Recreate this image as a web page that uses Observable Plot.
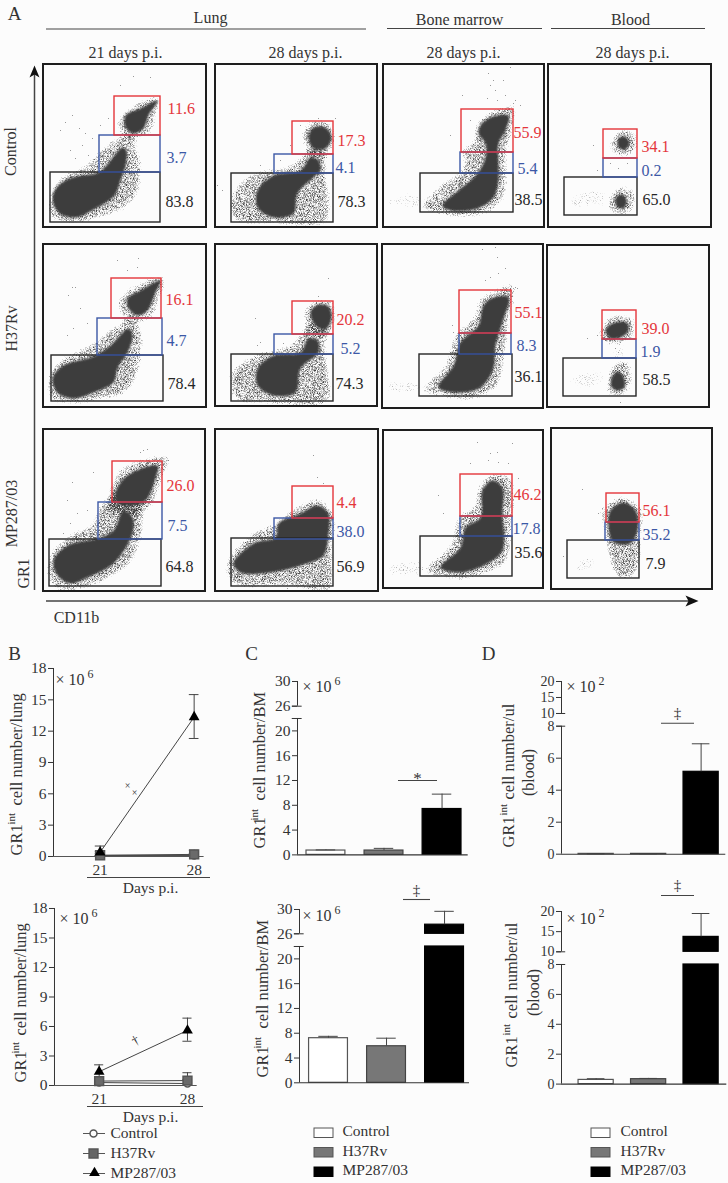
<!DOCTYPE html>
<html><head><meta charset="utf-8">
<script src="https://cdn.jsdelivr.net/npm/d3@7"></script>
<script src="https://cdn.jsdelivr.net/npm/@observablehq/plot@0.6"></script>
<style>
html,body{margin:0;padding:0;background:#fcfcfc}
#fig{position:relative;width:728px;height:1183px;overflow:hidden;background:#fcfcfc;font-family:"Liberation Serif",serif}
</style></head><body>
<svg width="0" height="0" style="position:absolute"><defs>
<filter id="grain" x="0" y="0" width="100%" height="100%" color-interpolation-filters="sRGB">
<feGaussianBlur in="SourceAlpha" stdDeviation="3.4" result="b"/>
<feTurbulence type="fractalNoise" baseFrequency="1.3" numOctaves="2" seed="11" result="n"/>
<feComposite in="n" in2="b" operator="arithmetic" k1="2.1" k2="0" k3="0" k4="-0.5" result="s"/>
<feComponentTransfer in="s" result="t"><feFuncA type="linear" slope="2" intercept="0"/></feComponentTransfer>
<feFlood flood-color="#424242" result="f"/>
<feComposite in="f" in2="t" operator="in"/>
</filter>
<filter id="soft" x="0" y="0" width="100%" height="100%"><feGaussianBlur stdDeviation="1"/></filter>
</defs></svg>
<div id="fig"></div>
<script>
const FONT = '"Liberation Serif", serif';
const INK = "#333";
const RED = "#e4363b", BLUE = "#3c58a6", BLACK = "#262626";

// ---------- Panel B: time course ----------
const days = [21, 28];
const strains = ["Control", "H37Rv", "MP287/03"];
const lungTop = {
  Control: [0.1, 0.1], ControlHi: [0.3, 0.3],
  H37Rv: [0.12, 0.2], H37RvHi: [0.5, 0.6],
  MP: [0.4, 13.35], MPHi: [1.0, 15.5], MPLo: [0.1, 11.3]
};
const lungBottom = {
  Control: [0.3, 0.2], ControlHi: [0.7, 0.6],
  H37Rv: [0.45, 0.5], H37RvHi: [0.9, 1.3],
  MP: [1.4, 5.6], MPHi: [2.1, 6.85], MPLo: [0.9, 4.5]
};

// ---------- Panels C and D: bars ----------
const bmTopValues = [0.7, 0.7, 7.4];
const bmTopErrors = [0.8, 1.05, 9.8];
const bmBottomValues = [7.2, 5.9, 27.5];
const bmBottomErrors = [7.5, 7.2, 29.7];
const bloodTopValues = [0.02, 0.02, 5.15];
const bloodTopErrors = [0.03, 0.03, 6.9];
const bloodBottomValues = [0.28, 0.33, 13.7];
const bloodBottomErrors = [0.36, 0.38, 19.5];
const bmTicks = [0, 4, 8, 12, 16, 20, 26, 30];
const bloodTicks = [0, 2, 4, 6, 8, 10, 15, 20];
const lungTicks = [0, 3, 6, 9, 12, 15, 18];

// ---------- Panel A: flow cytometry plots (read in plate coordinates) ----------
const plotBoxes = [
 [43,206,64,227],[215,377,64,227],[383,544,64,227],[548,711,64,227],
 [43,206,244,407],[215,377,244,406],[382,543,244,408],[547,709,245,407],
 [43,205,429,591],[215,378,429,591],[383,543,430,588],[551,712,428,589]];
const redGates = [
 [114,160,96,135],[292,333,121,154],[461,513,109,152],[603,637,129,158],
 [111,161,278,318],[292,333,301,334],[459,511,290,333],[602,636,310,339],
 [112,162,461,502],[292,333,486,518],[460,512,474,516],[606,639,493,522]];
const blueGates = [
 [99,160,135,172],[274,333,154,173],[460,513,152,173],[603,637,158,177],
 [97,162,318,355],[274,333,334,354],[459,511,333,354],[602,636,339,358],
 [98,162,502,539],[274,333,518,539],[460,512,516,536],[605,639,522,540]];
const blackGates = [
 [50,160,172,222],[231,333,173,222],[420,513,173,212],[564,637,177,215],
 [51,163,355,401],[231,333,354,401],[419,512,354,396],[563,636,358,396],
 [49,161,539,586],[231,333,538,586],[420,512,536,576],[567,639,540,578]];
const redValues = ["11.6","17.3","55.9","34.1","16.1","20.2","55.1","39.0","26.0","4.4","46.2","56.1"];
const blueValues = ["3.7","4.1","5.4","0.2","4.7","5.2","8.3","1.9","7.5","38.0","17.8","35.2"];
const blackValues = ["83.8","78.3","38.5","65.0","78.4","74.3","36.1","58.5","64.8","56.9","35.6","7.9"];
const redLabelAt = [[167,108],[337,140],[513,132],[641,146],[165,299],[336,319],[514,312],[641,328],[166,485],[336,502],[513,494],[642,510]];
const blueLabelAt = [[166,157],[335,167],[517,168],[641,170],[166,340],[340,348],[516,345],[640,351],[167,525],[336,531],[512,528],[642,534]];
const blackLabelAt = [[165,201],[337,201],[514,199],[642,199],[167,383],[335,383],[514,376],[642,379],[165,566],[336,566],[514,552],[645,563]];

const denseRegions = [
 [[52,197],[58,185],[72,177],[98,172],[106,165],[114,155],[122,147],[126,150],[125,165],[120,180],[114,195],[95,208],[75,217],[58,212]],
 [[125,115],[140,108],[157,100],[148,115],[143,128],[133,133],[125,127]],
 [[308,137],[313,127],[325,127],[331,137],[325,148],[313,148]],
 [[257,190],[273,175],[300,170],[310,157],[318,160],[320,170],[313,177],[297,193],[293,213],[273,217],[257,207]],
 [[480,125],[490,117],[508,115],[505,130],[498,143],[498,163],[498,180],[493,197],[477,208],[450,210],[442,205],[458,190],[477,173],[485,157],[485,143],[478,133]],
 [[52,378],[63,365],[93,356],[110,345],[128,328],[132,335],[128,350],[117,368],[113,382],[93,392],[73,398],[57,392]],
 [[127,298],[140,290],[160,280],[155,292],[147,310],[138,315],[128,308]],
 [[310,312],[318,304],[328,306],[331,318],[325,329],[316,326]],
 [[257,368],[273,355],[300,352],[308,338],[317,340],[318,352],[300,368],[295,392],[273,395],[257,385]],
 [[483,305],[493,297],[508,297],[502,322],[495,345],[493,368],[480,387],[457,392],[438,387],[453,365],[460,342],[478,325]],
 [[605,330],[612,323],[626,322],[628,330],[620,337],[610,338]],
 [[611,378],[617,371],[623,376],[624,387],[616,390],[611,386]],
 [[53,560],[67,545],[97,538],[113,530],[123,510],[132,517],[132,533],[113,563],[87,577],[70,583],[57,575]],
 [[115,492],[127,475],[157,465],[155,478],[143,502],[117,503]],
 [[233,563],[253,543],[275,537],[278,523],[300,513],[317,505],[328,513],[328,533],[323,555],[300,565],[270,572],[240,572]],
 [[482,490],[492,480],[502,487],[502,513],[502,550],[487,563],[460,572],[440,567],[460,547],[465,527],[480,517]],
 [[610,510],[623,502],[635,510],[637,530],[630,543],[613,542],[608,527]],
 [[618,138],[624,136],[629,142],[625,149],[618,147]],
 [[615,198],[621,194],[626,199],[624,207],[617,207]]
];
const haloRegions = [
 [[48,195],[60,176],[85,163],[100,148],[118,136],[134,140],[141,160],[141,185],[127,207],[100,218],[75,224],[50,217]],
 [[117,118],[138,101],[160,96],[157,115],[150,134],[132,139],[118,132]],
 [[300,137],[310,120],[328,120],[336,137],[328,155],[311,154]],
 [[230,195],[250,173],[290,163],[310,148],[324,153],[327,175],[327,222],[270,224],[233,220]],
 [[474,125],[490,110],[515,105],[512,135],[507,160],[507,190],[497,207],[475,217],[440,215],[420,207],[438,185],[463,165],[460,150],[472,140]],
 [[48,372],[65,355],[90,343],[110,328],[128,318],[142,330],[139,370],[127,392],[100,400],[75,404],[50,400]],
 [[118,298],[140,281],[165,275],[160,298],[152,318],[135,322],[119,314]],
 [[302,312],[316,299],[333,301],[336,320],[328,335],[310,330]],
 [[230,372],[255,353],[290,343],[308,323],[324,328],[327,355],[328,402],[270,404],[233,399]],
 [[478,298],[495,288],[515,283],[510,320],[505,360],[497,387],[470,400],[440,397],[420,390],[443,365],[453,335],[473,315]],
 [[598,331],[610,315],[632,316],[636,333],[620,345],[601,342]],
 [[605,385],[612,363],[627,360],[632,385],[624,395],[608,395]],
 [[48,555],[70,533],[90,523],[100,503],[125,493],[142,510],[142,540],[127,567],[90,587],[65,592],[48,582]],
 [[108,490],[122,466],[170,456],[162,480],[149,510],[110,510]],
 [[226,560],[250,533],[272,523],[300,503],[320,498],[335,515],[333,550],[330,590],[290,587],[230,584]],
 [[476,488],[492,472],[512,478],[512,530],[507,562],[485,574],[455,580],[423,570],[448,545],[458,515],[473,505]],
 [[600,510],[622,495],[642,508],[642,535],[637,572],[620,580],[608,562],[603,530]],
 [[609,140],[622,128],[636,133],[637,150],[622,157],[610,152]],
 [[607,198],[620,185],[634,190],[634,208],[620,216],[608,210]]
];
const sparseRegions = [
 [[384,200],[400,192],[425,195],[425,208],[400,208],[384,206]],
 [[384,380],[410,378],[425,382],[425,390],[384,392]],
 [[385,565],[410,558],[425,560],[425,575],[385,575]],
 [[568,198],[585,188],[605,190],[606,206],[585,210],[568,208]],
 [[566,378],[585,368],[605,372],[605,385],[585,390],[568,385]],
 [[570,565],[590,553],[598,560],[590,572],[572,572]],
 [[612,342],[625,342],[624,360],[613,360]]
];
const strayEvents = [
 [72,115],[65,122],[79,128],[85,133],[92,138],[82,145],[70,150],[75,158],[88,155],[133,76],[150,77],[120,85],[108,118],[60,130],[100,125],
 [318,118],[335,118],[300,125],[222,190],[217,185],[280,160],[260,165],[290,145],
 [488,73],[493,80],[503,80],[510,67],[462,95],[497,100],[487,98],[513,103],[450,135],[470,120],[495,90],[505,95],[490,85],[515,100],[520,105],
 [593,145],[618,168],[627,163],[597,170],[610,163],
 [72,287],[75,287],[68,295],[138,258],[117,260],[137,267],[127,270],[80,308],[87,323],[73,328],[67,335],
 [328,278],[318,296],[255,318],[260,342],[257,345],[283,343],
 [482,249],[495,247],[497,257],[490,277],[505,268],[515,287],[517,288],[485,280],[498,273],[452,325],[453,332],
 [587,338],[597,335],[618,352],[615,348],[620,402],
 [143,450],[140,452],[147,449],[168,460],[72,482],[93,472],[67,500],[77,513],[87,510],[70,523],[63,533],
 [313,455],[317,477],[323,483],[267,527],[287,588],[308,588],
 [477,442],[490,453],[497,452],[512,443],[488,460],[498,462],[508,463],[470,463],[443,513],[438,495],[518,478],
 [582,489],[602,508],[598,513],[563,556]
];

// ---------- Figure layout ----------
const labels = [];
function T(t, x, y, size = 16, o = {}) { labels.push({t, x, y, size, fill: o.fill || INK, anchor: o.anchor || "middle", rotate: o.rotate || 0}); }
T("A", 14, 13, 19); T("B", 14, 653, 19); T("C", 251, 653, 19); T("D", 488, 653, 19);
T("Lung", 210, 17, 16); T("Bone marrow", 459, 19, 16); T("Blood", 630, 19, 16);
T("21 days p.i.", 125, 52, 16); T("28 days p.i.", 305, 52, 16); T("28 days p.i.", 463, 52, 16); T("28 days p.i.", 632, 52, 16);
T("Control", 10, 151, 16, {rotate: -90}); T("H37Rv", 11, 328, 16, {rotate: -90}); T("MP287/03", 11, 513, 16, {rotate: -90}); T("GR1", 23, 573, 16, {rotate: -90});
T("CD11b", 76, 617, 16);
function yTitle(x, gr, intY, cell, rest) {
  T("GR1", x, gr, 16.5, {anchor: "start", rotate: -90});
  T("int", x - 5, intY, 11, {anchor: "start", rotate: -90});
  T("cell number/" + rest, x, cell, 16.5, {anchor: "start", rotate: -90});
}
yTitle(16, 855, 824, 805, "lung"); yTitle(20, 1082, 1053, 1035, "lung");
yTitle(259, 848, 820, 800, "BM"); yTitle(262, 1077, 1048, 1028, "BM");
yTitle(508, 847, 815, 799, "ul"); yTitle(511, 1067, 1035, 1018, "ul");
T("(blood)", 528, 772, 16, {rotate: -90}); T("(blood)", 533, 992, 16, {rotate: -90});
function times(x, y, e) { T("× 10", x, y, 16, {anchor: "start"}); T(e, x + 32, y - 5, 12, {anchor: "start"}); }
times(55, 679, "6"); times(59, 918, "6"); times(302, 686, "6"); times(302, 915, "6"); times(566, 686, "2"); times(566, 918, "2");
T("Days p.i.", 150, 888, 15.5); T("Days p.i.", 150, 1117, 15.5);
T("×", 127, 785, 10); T("×", 134, 792, 10); T("†", 135, 1040, 13, {rotate: -30});
T("*", 417, 778, 17); T("‡", 416, 890, 15); T("‡", 677, 713, 15); T("‡", 677, 885, 15);
strains.forEach((s, i) => {
  T(s, 110, 1133 + i * 20, 15.5, {anchor: "start"});
  T(s, 342, 1131 + i * 19.5, 15.5, {anchor: "start"});
  T(s, 620, 1131 + i * 19.5, 15.5, {anchor: "start"});
});
redValues.forEach((v, i) => T(v, redLabelAt[i][0], redLabelAt[i][1], 16, {fill: RED, anchor: "start"}));
blueValues.forEach((v, i) => T(v, blueLabelAt[i][0], blueLabelAt[i][1], 16, {fill: BLUE, anchor: "start"}));
blackValues.forEach((v, i) => T(v, blackLabelAt[i][0], blackLabelAt[i][1], 16, {fill: BLACK, anchor: "start"}));

const headerLines = [[46,366,28.5],[387,542,28],[551,705,28],[87,210,877],[87,203,1106],[398,437,780],[403,430,899],[661,694,722.7],[661,694,895]];
const legendSwatchRows = [1128, 1147.5, 1167];
const legendFills = ["#ffffff", "#777777", "#000000"];
const legendStrokes = ["#555555", "#555555", "#000000"];
const legendBoxesX = [[314, 333], [591, 610]];

const rows = regs => regs.flatMap((r, id) => r.map(([x, y]) => ({x, y, id})));
const rectOf = ([x1, x2, y1, y2]) => ({x1, x2, y1, y2});
const gateMark = (g, stroke) => Plot.rect(g.map(rectOf), {x1: "x1", x2: "x2", y1: "y1", y2: "y2", fill: "none", stroke, strokeWidth: 1.4});
const blobOpts = {x: "x", y: "y", z: "id", curve: "catmull-rom-closed", stroke: "none"};

const plate = Plot.plot({
  width: 728, height: 1183, margin: 0, style: {background: "transparent", fontFamily: FONT},
  x: {domain: [0, 728], range: [0, 728], axis: null},
  y: {domain: [0, 1183], range: [0, 1183], axis: null},
  marks: [
    Plot.line(rows(sparseRegions), {...blobOpts, fill: "#000", fillOpacity: 0.42, imageFilter: "url(#grain)"}),
    Plot.line(rows(haloRegions), {...blobOpts, fill: "#000", fillOpacity: 0.62, imageFilter: "url(#grain)"}),
    Plot.line(rows(denseRegions), {...blobOpts, fill: "#3c3c3c", imageFilter: "url(#soft)"}),
    Plot.dot(strayEvents, {x: d => d[0], y: d => d[1], r: 0.5, fill: "#777"}),
    Plot.rect(plotBoxes.map(rectOf), {x1: "x1", x2: "x2", y1: "y1", y2: "y2", fill: "none", stroke: "#1e1e1e", strokeWidth: 2}),
    gateMark(blackGates, BLACK), gateMark(blueGates, BLUE), gateMark(redGates, RED),
    Plot.ruleX([34], {y1: 72, y2: 590, stroke: "#444", strokeWidth: 1.5}),
    Plot.ruleY([600.5], {x1: 46, x2: 690, stroke: "#444", strokeWidth: 1.5}),
    Plot.line([[34,65],[39,77],[34,74],[29,77]], {x: d => d[0], y: d => d[1], curve: "linear-closed", fill: "#111", stroke: "none"}),
    Plot.line([[698,600.5],[685,595],[688,600.5],[685,606]], {x: d => d[0], y: d => d[1], curve: "linear-closed", fill: "#111", stroke: "none"}),
    Plot.ruleY(headerLines, {x1: d => d[0], x2: d => d[1], y: d => d[2], stroke: "#444", strokeWidth: 1.1}),
    ...legendBoxesX.flatMap(([a, b]) => legendSwatchRows.map((y, i) =>
      Plot.rect([{x1: a, x2: b, y1: y, y2: y + 9.5}], {x1: "x1", x2: "x2", y1: "y1", y2: "y2", fill: legendFills[i], stroke: legendStrokes[i], strokeWidth: 1}))),
    Plot.ruleY([1133, 1153, 1173], {x1: 83, x2: 105, stroke: "#555", strokeWidth: 1}),
    Plot.dot([[93, 1133]], {x: d => d[0], y: d => d[1], r: 3.5, fill: "#fcfcfc", stroke: "#555"}),
    Plot.dot([[93, 1153]], {x: d => d[0], y: d => d[1], r: 5, symbol: "square", fill: "#666", stroke: "#555"}),
    Plot.dot([[94, 1172.5]], {x: d => d[0], y: d => d[1], r: 4, symbol: "triangle", fill: "#000"}),
    ...labels.map(l => Plot.text([l], {x: "x", y: "y", text: "t", fontSize: l.size, fill: l.fill, textAnchor: l.anchor, rotate: l.rotate, lineAnchor: "middle", fontFamily: FONT}))
  ]
});
Object.assign(plate.style, {position: "absolute", left: "0px", top: "0px"});
document.getElementById("fig").append(plate);

// ---------- Charts ----------
function mount(marks, {axisX, endX, yDomain, yPx, xDomain}) {
  const L = axisX - 34, T0 = Math.min(...yPx) - 10, B0 = Math.max(...yPx) + 22, R = endX + 2;
  const yTop = Math.min(...yPx), yBot = Math.max(...yPx);
  const pieces = d3.scaleLinear(yDomain, yPx); // broken axis: piecewise value → plate position
  const svg = Plot.plot({
    width: R - L, height: B0 - T0,
    marginLeft: axisX - L, marginRight: R - endX, marginTop: yTop - T0, marginBottom: B0 - yBot,
    style: {background: "transparent", fontFamily: FONT, color: INK},
    x: {domain: xDomain, axis: null},
    y: {transform: v => pieces(v), domain: [yBot, yTop], range: [yBot - T0, yTop - T0], axis: null},
    marks
  });
  Object.assign(svg.style, {position: "absolute", left: L + "px", top: T0 + "px", overflow: "visible"});
  document.getElementById("fig").append(svg);
}
// y axis drawn with rule and text marks so that its ticks pass through the broken scale
function yAxis(ticks, cfg) {
  const x0 = cfg.xDomain[0];
  const unit = (cfg.xDomain[1] - x0) / (cfg.endX - cfg.axisX);
  return [
    Plot.ruleY(ticks, {y: d => d, x1: x0 - 5 * unit, x2: x0, stroke: INK, strokeWidth: 1}),
    Plot.text(ticks, {y: d => d, x: () => x0, text: d => String(d), dx: -7, textAnchor: "end", lineAnchor: "middle", fontSize: cfg.tickFont || 15.5, fill: INK, fontFamily: FONT})
  ];
}

function lineChart(d, cfg) {
  const s = (vals, hi, lo, name) => days.map((day, i) => ({day, v: vals[i], hi: hi[i], lo: lo ? lo[i] : vals[i], name}));
  const ctl = s(d.Control, d.ControlHi, null, "Control");
  const h37 = s(d.H37Rv, d.H37RvHi, null, "H37Rv");
  const mp = s(d.MP, d.MPHi, d.MPLo, "MP");
  const bars = (pts) => [
    Plot.ruleX(pts, {x: "day", y1: "lo", y2: "hi", stroke: "#444", strokeWidth: 1}),
    Plot.ruleY(pts, {y: "hi", x1: p => p.day - 0.36, x2: p => p.day + 0.36, stroke: "#444", strokeWidth: 1}),
    Plot.ruleY(pts, {y: "lo", x1: p => p.day - 0.36, x2: p => p.day + 0.36, stroke: "#444", strokeWidth: 1})
  ];
  mount([
    Plot.ruleY([0], {stroke: "#555", strokeWidth: 1.2}),
    Plot.ruleX([cfg.xDomain[0]], {y1: 0, y2: 18, stroke: INK, strokeWidth: 1}),
    ...yAxis(lungTicks, cfg),
    Plot.axisX({ticks: days, tickSize: 0, tickPadding: 7, fontSize: 15.5, label: null, color: INK, stroke: INK, tickFormat: d => d, fontFamily: FONT}),
    ...bars(ctl), ...bars(h37), ...bars(mp),
    Plot.line(ctl, {x: "day", y: "v", stroke: "#444", strokeWidth: 1}),
    Plot.line(h37, {x: "day", y: "v", stroke: "#444", strokeWidth: 1}),
    Plot.line(mp, {x: "day", y: "v", stroke: "#444", strokeWidth: 1}),
    Plot.dot(ctl, {x: "day", y: "v", r: 3.5, fill: "#fcfcfc", stroke: "#555"}),
    Plot.dot(h37, {x: "day", y: "v", r: 5, symbol: "square", fill: "#6a6a6a", stroke: "#555"}),
    Plot.dot(mp, {x: "day", y: "v", r: 4, symbol: "triangle", fill: "#000"})
  ], cfg);
}

const barFill = ["#ffffff", "#777777", "#000000"];
const barStroke = ["#555555", "#444444", "#000000"];
function barChart(values, errors, cfg) {
  const [gapLo, gapHi] = cfg.gap;
  const half = 0.335, off = cfg.offset;
  const segs = values.flatMap((v, i) => v > gapHi
    ? [{i, a: 0, b: gapLo}, {i, a: gapHi, b: v}]
    : [{i, a: 0, b: v}]);
  const err = values.map((v, i) => ({i, v, e: errors[i]}));
  mount([
    Plot.rect(segs, {x1: d => d.i + off - half, x2: d => d.i + off + half, y1: "a", y2: "b",
      fill: d => barFill[d.i], stroke: d => barStroke[d.i], strokeWidth: 1.2}),
    Plot.ruleX(err, {x: d => d.i + off, y1: "v", y2: "e", stroke: "#444", strokeWidth: 1}),
    Plot.ruleY(err, {y: "e", x1: d => d.i + off - half * 0.5, x2: d => d.i + off + half * 0.5, stroke: "#444", strokeWidth: 1}),
    Plot.ruleY([0], {stroke: "#333", strokeWidth: 1.1}),
    Plot.ruleX([0], {y1: 0, y2: gapLo, stroke: INK, strokeWidth: 1}),
    Plot.ruleX([0], {y1: gapHi, y2: cfg.yDomain[cfg.yDomain.length - 1], stroke: INK, strokeWidth: 1}),
    ...yAxis(cfg.ticks, cfg),
    Plot.ruleY([gapLo, gapHi], {x1: -0.09, x2: 0.08, stroke: INK, strokeWidth: 1})
  ], cfg);
}

lineChart(lungTop, {axisX: 52.7, endX: 203.3, yDomain: [0, 18], yPx: [856, 668], xDomain: [17.53, 28.74]});
lineChart(lungBottom, {axisX: 54, endX: 196.7, yDomain: [0, 18], yPx: [1084.7, 907.7], xDomain: [17.46, 28.77]});
barChart(bmTopValues, bmTopErrors, {axisX: 297.3, endX: 468, yDomain: [0, 22, 26, 30], yPx: [854.7, 718.3, 706, 681.3], xDomain: [0, 2.94], offset: 0.49, gap: [22, 26], ticks: bmTicks});
barChart(bmBottomValues, bmBottomErrors, {axisX: 299, endX: 469, yDomain: [0, 22, 26, 30], yPx: [1082.3, 946, 933.3, 909], xDomain: [0, 2.93], offset: 0.5, gap: [22, 26], ticks: bmTicks});
barChart(bloodTopValues, bloodTopErrors, {axisX: 560.7, endX: 725, yDomain: [0, 8, 10, 20], yPx: [854, 726, 713.3, 681.3], xDomain: [0, 3.13], offset: 0.66, gap: [8, 10], ticks: bloodTicks, tickFont: 14});
barChart(bloodBottomValues, bloodBottomErrors, {axisX: 560.7, endX: 726, yDomain: [0, 8, 10, 20], yPx: [1083.3, 963.7, 951, 910.7], xDomain: [0, 3.15], offset: 0.66, gap: [8, 10], ticks: bloodTicks, tickFont: 14});
</script>
</body></html>
